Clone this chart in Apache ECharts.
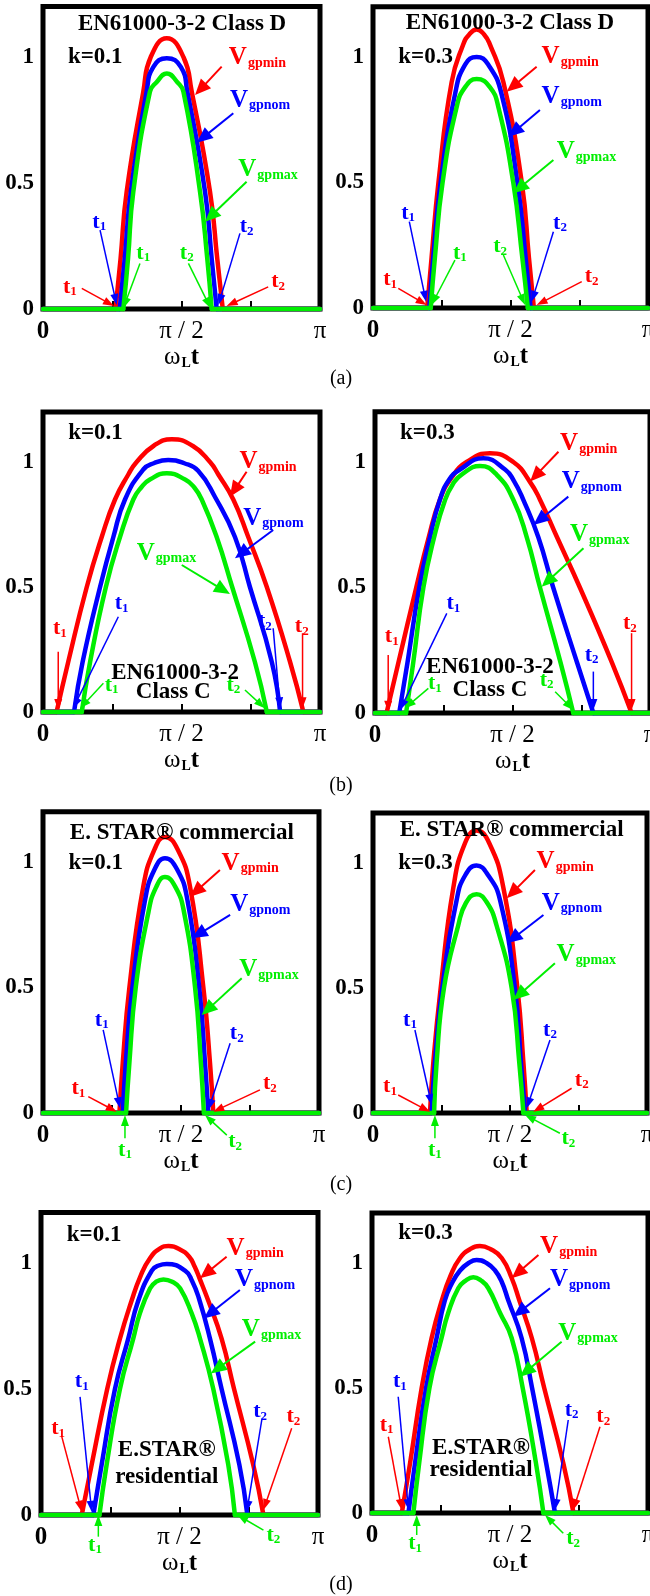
<!DOCTYPE html>
<html><head><meta charset="utf-8">
<script src="https://cdn.jsdelivr.net/npm/echarts/dist/echarts.min.js"></script>
<style>html,body{margin:0;padding:0;background:#fff}#c{width:650px;height:1596px}</style>
</head><body><div id="c"></div>
<script>
// ---------- tick labels ----------
const xTickValues = [0, 0.5, 1];          // x in units of pi
const xTickText = ['0', 'π / 2', 'π'];
const yTickValues = [0, 0.5, 1];
const yTickText = ['0', '0.5', '1'];
const captions = ['(a)', '(b)', '(c)', '(d)'];

// ---------- curves: [omega_L t / pi, V] ----------
// (a) EN61000-3-2 Class D
const aL_red   = [[0.262,0],[0.280,0.2],[0.302,0.465],[0.362,0.862],[0.389,1.0],[0.447,1.074],[0.507,1.0],[0.537,0.862],[0.603,0.465],[0.629,0.2],[0.649,0]];
const aL_blue  = [[0.277,0],[0.295,0.2],[0.317,0.465],[0.374,0.862],[0.398,0.96],[0.447,0.995],[0.498,0.96],[0.521,0.862],[0.585,0.465],[0.609,0.2],[0.627,0]];
const aL_green = [[0.290,0],[0.307,0.2],[0.326,0.465],[0.386,0.862],[0.410,0.9],[0.447,0.935],[0.485,0.9],[0.507,0.862],[0.567,0.465],[0.593,0.2],[0.609,0]];
const aR_red   = [[0.197,0],[0.213,0.2],[0.238,0.5],[0.286,0.9],[0.328,1.05],[0.350,1.09],[0.377,1.11],[0.404,1.09],[0.425,1.05],[0.474,0.9],[0.541,0.5],[0.567,0.2],[0.585,0]];
const aR_blue  = [[0.205,0],[0.219,0.2],[0.246,0.5],[0.298,0.85],[0.335,0.97],[0.377,1.0],[0.419,0.97],[0.468,0.85],[0.525,0.5],[0.555,0.2],[0.573,0]];
const aR_green = [[0.210,0],[0.225,0.2],[0.253,0.5],[0.304,0.8],[0.335,0.88],[0.377,0.912],[0.425,0.88],[0.456,0.8],[0.510,0.5],[0.543,0.2],[0.563,0]];
// (b) EN61000-3-2 Class C
const bL_red   = [[0.049,0],[0.091,0.2],[0.158,0.5],[0.212,0.7],[0.260,0.85],[0.308,0.95],[0.338,1.0],[0.400,1.065],[0.465,1.091],[0.540,1.065],[0.603,1.0],[0.633,0.95],[0.687,0.85],[0.741,0.7],[0.808,0.5],[0.892,0.2],[0.940,0]];
const bL_blue  = [[0.112,0],[0.143,0.2],[0.206,0.5],[0.254,0.7],[0.296,0.85],[0.362,0.97],[0.400,0.995],[0.452,1.008],[0.510,0.995],[0.560,0.965],[0.621,0.86],[0.693,0.7],[0.747,0.5],[0.826,0.2],[0.856,0]];
const bL_green = [[0.140,0],[0.170,0.2],[0.227,0.5],[0.278,0.7],[0.326,0.85],[0.356,0.9],[0.386,0.93],[0.447,0.955],[0.513,0.93],[0.545,0.9],[0.573,0.85],[0.627,0.7],[0.683,0.5],[0.765,0.2],[0.808,0]];
const bR_red   = [[0.042,0],[0.085,0.2],[0.150,0.5],[0.193,0.69],[0.236,0.85],[0.280,0.94],[0.333,1.0],[0.418,1.035],[0.503,1.0],[0.564,0.92],[0.600,0.85],[0.662,0.7],[0.745,0.5],[0.862,0.2],[0.933,0]];
const bR_blue  = [[0.088,0],[0.118,0.2],[0.161,0.5],[0.200,0.7],[0.236,0.85],[0.270,0.93],[0.309,0.97],[0.394,1.015],[0.473,0.97],[0.505,0.925],[0.539,0.85],[0.594,0.7],[0.648,0.5],[0.735,0.2],[0.794,0]];
const bR_green = [[0.113,0],[0.139,0.2],[0.176,0.5],[0.215,0.7],[0.255,0.85],[0.285,0.915],[0.315,0.95],[0.382,0.984],[0.442,0.95],[0.503,0.85],[0.552,0.7],[0.600,0.5],[0.675,0.2],[0.721,0]];
// (c) E. STAR commercial
const cL_red   = [[0.277,0],[0.289,0.2],[0.313,0.5],[0.363,0.9],[0.404,1.05],[0.442,1.10],[0.488,1.05],[0.533,0.9],[0.581,0.5],[0.605,0.2],[0.617,0]];
const cL_blue  = [[0.289,0],[0.300,0.2],[0.324,0.5],[0.370,0.85],[0.404,0.97],[0.442,1.015],[0.486,0.97],[0.523,0.85],[0.566,0.5],[0.587,0.2],[0.599,0]];
const cL_green = [[0.301,0],[0.313,0.2],[0.336,0.5],[0.382,0.8],[0.410,0.9],[0.442,0.94],[0.480,0.9],[0.511,0.8],[0.551,0.5],[0.572,0.2],[0.583,0]];
const cR_red   = [[0.208,0],[0.220,0.2],[0.247,0.5],[0.293,0.9],[0.336,1.08],[0.378,1.13],[0.424,1.08],[0.476,0.9],[0.527,0.5],[0.549,0.2],[0.561,0]];
const cR_blue  = [[0.214,0],[0.226,0.2],[0.253,0.5],[0.305,0.85],[0.336,0.95],[0.378,0.99],[0.421,0.95],[0.464,0.85],[0.518,0.5],[0.540,0.2],[0.555,0]];
const cR_green = [[0.223,0],[0.232,0.2],[0.259,0.5],[0.311,0.75],[0.339,0.84],[0.378,0.875],[0.417,0.84],[0.451,0.75],[0.506,0.5],[0.534,0.2],[0.549,0]];
// (d) E.STAR residential
const dL_red   = [[0.147,0],[0.183,0.2],[0.239,0.5],[0.285,0.7],[0.327,0.85],[0.360,0.95],[0.394,1.02],[0.430,1.058],[0.460,1.067],[0.500,1.055],[0.535,1.025],[0.555,0.985],[0.572,0.94],[0.604,0.85],[0.652,0.7],[0.697,0.5],[0.766,0.2],[0.803,0]];
const dL_blue  = [[0.189,0],[0.219,0.2],[0.267,0.5],[0.315,0.7],[0.351,0.85],[0.400,0.97],[0.425,0.99],[0.454,0.996],[0.520,0.97],[0.545,0.93],[0.570,0.86],[0.610,0.7],[0.652,0.5],[0.716,0.2],[0.745,0]];
const dL_green = [[0.211,0],[0.237,0.2],[0.285,0.5],[0.333,0.7],[0.357,0.8],[0.394,0.9],[0.415,0.925],[0.442,0.935],[0.475,0.925],[0.502,0.9],[0.544,0.8],[0.574,0.7],[0.622,0.5],[0.676,0.2],[0.700,0]];
const dR_red   = [[0.108,0],[0.138,0.2],[0.180,0.5],[0.216,0.7],[0.253,0.85],[0.285,0.95],[0.319,1.02],[0.355,1.055],[0.391,1.068],[0.430,1.055],[0.470,1.02],[0.506,0.94],[0.534,0.85],[0.579,0.7],[0.624,0.5],[0.693,0.2],[0.730,0]];
const dR_blue  = [[0.132,0],[0.156,0.2],[0.196,0.5],[0.234,0.7],[0.264,0.85],[0.290,0.92],[0.319,0.97],[0.350,1.0],[0.379,1.012],[0.415,1.0],[0.446,0.97],[0.470,0.925],[0.494,0.85],[0.542,0.7],[0.580,0.5],[0.631,0.2],[0.663,0]];
const dR_green = [[0.150,0],[0.171,0.2],[0.208,0.5],[0.252,0.7],[0.276,0.8],[0.313,0.9],[0.340,0.93],[0.367,0.943],[0.395,0.93],[0.421,0.9],[0.464,0.8],[0.506,0.7],[0.546,0.5],[0.594,0.2],[0.621,0]];

// ---------- styling / layout ----------
const SERIF = '"Liberation Serif","Times New Roman",serif';
const R = '#ff0000', B = '#0000ff', G = '#00ee00';
const panelCurves = [
  [aL_red,aL_blue,aL_green],[aR_red,aR_blue,aR_green],
  [bL_red,bL_blue,bL_green],[bR_red,bR_blue,bR_green],
  [cL_red,cL_blue,cL_green],[cR_red,cR_blue,cR_green],
  [dL_red,dL_blue,dL_green],[dR_red,dR_blue,dR_green]];
const curveColors = [R, B, G];
const grids = [
  {left:43, top:6.6, width:277, height:302.4},
  {left:373, top:6.8, width:275, height:301.2},
  {left:43, top:412, width:277, height:300},
  {left:375, top:411.8, width:275, height:301.2},
  {left:43, top:811.8, width:276, height:301.2},
  {left:373, top:813, width:274, height:300},
  {left:41, top:1212.6, width:277, height:302.4},
  {left:372, top:1213, width:276, height:300}];

// annotations (positions in data coordinates of each panel)
const ann = [
 { texts:[['EN61000-3-2 Class D',0.502,1.131,'center'],['k=0.1',0.090,1.0,'left']],
   V:[[R,'gpmin',0.671,0.996,0.645,0.962,0.549,0.849],[B,'gpnom',0.675,0.829,0.687,0.777,0.555,0.660],[G,'gpmax',0.705,0.552,0.735,0.505,0.585,0.346]],
   T:[[B,1,0.203,0.345,0.206,0.313,0.266,0.016],[G,1,0.362,0.222,0.350,0.181,0.290,0.003],[G,2,0.519,0.222,0.525,0.181,0.605,0.003],[B,2,0.735,0.328,0.711,0.300,0.633,0.016],[R,1,0.097,0.088,0.140,0.082,0.256,0.012],[R,2,0.849,0.108,0.813,0.088,0.663,0.012]]},
 { texts:[['EN61000-3-2 Class D',0.498,1.134,'center'],['k=0.3',0.092,1.0,'left']],
   V:[[R,'gpmin',0.613,1.0,0.595,0.961,0.486,0.862],[B,'gpnom',0.613,0.842,0.607,0.789,0.492,0.682],[G,'gpmax',0.668,0.623,0.656,0.590,0.510,0.457]],
   T:[[B,1,0.128,0.379,0.132,0.344,0.193,0.025],[G,1,0.316,0.219,0.298,0.191,0.213,0.012],[R,1,0.062,0.113,0.092,0.078,0.195,0.012],[G,2,0.462,0.246,0.474,0.211,0.553,0.012],[B,2,0.680,0.339,0.656,0.304,0.577,0.025],[R,2,0.795,0.126,0.759,0.105,0.595,0.012]]},
 { texts:[['k=0.1',0.091,1.115,'left'],['EN61000-3-2',0.477,0.155,'center'],['Class C',0.470,0.081,'center']],
   V:[[R,'gpmin',0.709,1.001,0.735,0.961,0.675,0.861],[B,'gpnom',0.723,0.775,0.831,0.728,0.693,0.615],[G,'gpmax',0.338,0.635,0.501,0.588,0.675,0.472]],
   T:[[R,1,0.061,0.335,0.055,0.241,0.055,0.008],[B,1,0.284,0.435,0.272,0.381,0.109,0.015],[G,1,0.248,0.108,0.218,0.115,0.134,0.015],[G,2,0.687,0.108,0.729,0.088,0.801,0.015],[B,2,0.801,0.361,0.831,0.335,0.856,0.015],[R,2,0.934,0.341,0.937,0.315,0.937,0.015]]},
 { texts:[['k=0.3',0.091,1.114,'left'],['EN61000-3-2',0.418,0.184,'center'],['Class C',0.418,0.092,'center']],
   V:[[R,'gpmin',0.673,1.074,0.667,1.041,0.564,0.922],[B,'gpnom',0.679,0.922,0.703,0.862,0.576,0.749],[G,'gpmax',0.709,0.709,0.758,0.656,0.606,0.503]],
   T:[[R,1,0.061,0.304,0.048,0.231,0.048,0.005],[B,1,0.285,0.437,0.261,0.397,0.091,0.012],[G,1,0.218,0.118,0.194,0.098,0.109,0.019],[G,2,0.624,0.131,0.655,0.085,0.721,0.012],[B,2,0.788,0.231,0.794,0.165,0.794,0.012],[R,2,0.927,0.357,0.933,0.318,0.933,0.012]]},
 { texts:[['E. STAR® commercial',0.503,1.114,'center'],['k=0.1',0.092,0.995,'left']],
   V:[[R,'gpmin',0.647,0.995,0.641,0.968,0.533,0.862],[B,'gpnom',0.678,0.829,0.678,0.789,0.539,0.696],[G,'gpmax',0.711,0.570,0.720,0.537,0.575,0.390]],
   T:[[B,1,0.213,0.371,0.218,0.331,0.279,0.019],[R,1,0.128,0.098,0.164,0.065,0.267,0.005],[G,1,0.297,-0.147,0.297,-0.101,0.297,-0.008],[B,2,0.702,0.318,0.678,0.278,0.599,0.012],[R,2,0.822,0.118,0.786,0.092,0.617,0.005],[G,2,0.696,-0.114,0.666,-0.088,0.587,-0.008]]},
 { texts:[['E. STAR® commercial',0.506,1.132,'center'],['k=0.3',0.092,0.999,'left']],
   V:[[R,'gpmin',0.597,1.005,0.591,0.972,0.488,0.859],[B,'gpnom',0.616,0.839,0.622,0.792,0.488,0.679],[G,'gpmax',0.670,0.632,0.664,0.599,0.512,0.452]],
   T:[[B,1,0.135,0.372,0.153,0.332,0.214,0.032],[R,1,0.062,0.105,0.092,0.072,0.208,0.005],[G,1,0.226,-0.148,0.226,-0.101,0.226,-0.008],[B,2,0.646,0.332,0.646,0.292,0.561,0.019],[R,2,0.762,0.132,0.725,0.099,0.585,0.005],[G,2,0.713,-0.101,0.682,-0.081,0.555,-0.008]]},
 { texts:[['k=0.1',0.093,1.111,'left'],['E.STAR®',0.454,0.258,'center'],['residential',0.454,0.152,'center']],
   V:[[R,'gpmin',0.670,1.058,0.670,1.025,0.574,0.939],[B,'gpnom',0.700,0.933,0.718,0.893,0.588,0.780],[G,'gpmax',0.725,0.734,0.773,0.688,0.613,0.562]],
   T:[[B,1,0.147,0.529,0.141,0.469,0.183,0.013],[R,1,0.062,0.344,0.075,0.311,0.147,0.013],[G,1,0.195,-0.119,0.207,-0.086,0.207,0],[B,2,0.791,0.410,0.797,0.377,0.743,0.013],[R,2,0.911,0.390,0.905,0.344,0.803,0.020],[G,2,0.839,-0.079,0.803,-0.060,0.709,0]]},
 { texts:[['k=0.3',0.095,1.119,'left'],['E.STAR®',0.395,0.259,'center'],['residential',0.395,0.172,'center']],
   V:[[R,'gpmin',0.609,1.065,0.603,1.032,0.506,0.939],[B,'gpnom',0.645,0.932,0.645,0.899,0.512,0.785],[G,'gpmax',0.675,0.719,0.687,0.685,0.536,0.545]],
   T:[[B,1,0.101,0.525,0.095,0.465,0.132,0.012],[R,1,0.053,0.352,0.059,0.305,0.108,0.012],[G,1,0.156,-0.121,0.162,-0.088,0.162,-0.008],[B,2,0.723,0.412,0.711,0.372,0.663,0.012],[R,2,0.838,0.385,0.826,0.345,0.729,0.012],[G,2,0.729,-0.101,0.693,-0.081,0.627,-0.008]]}
];
const captionPos = [[341,379],[341,786],[341,1185],[341,1585]];

// ---------- build option ----------
const chart = echarts.init(document.getElementById('c'), null, {renderer:'canvas'});
const gridOpt = [], xAxes = [], yAxes = [], series = [];
grids.forEach((g, i) => {
  gridOpt.push(Object.assign({show:true, borderColor:'#000', borderWidth:5, backgroundColor:'transparent', containLabel:false, outerBoundsMode:'none'}, g));
  xAxes.push({
    type:'value', gridIndex:i, min:0, max:1, interval:0.25,
    axisLine:{show:false}, splitLine:{show:false},
    axisTick:{show:true, inside:true, length:8, lineStyle:{color:'#000', width:2}},
    axisLabel:{margin:10, formatter:v => {
      const k = xTickValues.findIndex(t => Math.abs(t - v) < 1e-6);
      if (k < 0) return '';
      return (k === 0 ? '{b|' : '{n|') + xTickText[k] + '}';
    }, rich:{
      b:{fontSize:25, fontWeight:'bold', fontFamily:SERIF, color:'#000'},
      n:{fontSize:25, fontFamily:SERIF, color:'#000'}}},
    name:'{w|ω}{l|L}{t|t}', nameLocation:'middle', nameGap:29,
    nameTextStyle:{rich:{
      w:{fontSize:25, fontFamily:SERIF, color:'#000'},
      l:{fontSize:14, fontWeight:'bold', fontFamily:SERIF, color:'#000', padding:[12,0,0,1]},
      t:{fontSize:25, fontWeight:'bold', fontFamily:SERIF, color:'#000'}}}
  });
  yAxes.push({
    type:'value', gridIndex:i, min:0, max:1.2, interval:0.5,
    axisLine:{show:false}, axisTick:{show:false}, splitLine:{show:false},
    axisLabel:{margin:9, fontSize:23, fontWeight:'bold', fontFamily:SERIF, color:'#000',
      showMaxLabel:false,
      formatter:v => { const k = yTickValues.findIndex(t => Math.abs(t - v) < 1e-6); return k < 0 ? '' : yTickText[k]; }}
  });
  panelCurves[i].forEach((arr, ci) => {
    const col = curveColors[ci];
    const base = {type:'line', xAxisIndex:i, yAxisIndex:i, symbol:'none', showSymbol:false, clip:false,
      silent:true, animation:false, lineStyle:{color:col, width:4.5, cap:'round', join:'round'}, z:2};
    const last = arr[arr.length - 1][0];
    series.push(Object.assign({}, base, {data:[[0,0],[arr[0][0],0]]}));
    series.push(Object.assign({}, base, {data:[[last,0],[1,0]]}));
    series.push(Object.assign({}, base, {data:arr, smooth:0.5}));
  });
});

chart.setOption({animation:false, grid:gridOpt, xAxis:xAxes, yAxis:yAxes, series:series});

// ---------- annotations ----------
function arrow(p1, p2, color, L, W, lw) {
  const dx = p2[0]-p1[0], dy = p2[1]-p1[1], len = Math.hypot(dx, dy) || 1;
  const ux = dx/len, uy = dy/len, bx = p2[0]-ux*L, by = p2[1]-uy*L;
  return [
    {type:'line', z:60, silent:true, shape:{x1:p1[0], y1:p1[1], x2:bx+ux*2, y2:by+uy*2}, style:{stroke:color, lineWidth:lw}},
    {type:'polygon', z:61, silent:true, shape:{points:[[p2[0],p2[1]],[bx-uy*W, by+ux*W],[bx+uy*W, by-ux*W]]}, style:{fill:color}}
  ];
}
const gEls = [];
ann.forEach((a, i) => {
  const P = (x, y) => chart.convertToPixel({gridIndex:i}, [x, y]);
  a.texts.forEach(([t, x, y, al]) => {
    const p = P(x, y);
    gEls.push({type:'text', z:50, silent:true, style:{text:t, x:p[0], y:p[1], align:al, verticalAlign:'middle',
      fontSize:23, fontWeight:'bold', fontFamily:SERIF, fill:'#000'}});
  });
  a.V.forEach(([c, sub, lx, ly, x1, y1, x2, y2]) => {
    const p = P(lx, ly);
    gEls.push({type:'text', z:50, silent:true, style:{text:'{a|V}{b|' + sub + '}', x:p[0], y:p[1], align:'left', verticalAlign:'middle',
      rich:{a:{fontSize:25, fontWeight:'bold', fontFamily:SERIF, fill:c},
            b:{fontSize:14, fontWeight:'bold', fontFamily:SERIF, fill:c, padding:[11,0,0,1]}}}});
    gEls.push(...arrow(P(x1, y1), P(x2, y2), c, 16, 7, 2));
  });
  a.T.forEach(([c, n, lx, ly, x1, y1, x2, y2]) => {
    const p = P(lx, ly);
    gEls.push({type:'text', z:50, silent:true, style:{text:'{a|t}{b|' + n + '}', x:p[0], y:p[1], align:'center', verticalAlign:'middle',
      rich:{a:{fontSize:22, fontWeight:'bold', fontFamily:SERIF, fill:c},
            b:{fontSize:13, fontWeight:'bold', fontFamily:SERIF, fill:c, padding:[10,0,0,0]}}}});
    gEls.push(...arrow(P(x1, y1), P(x2, y2), c, 11, 4, 1.5));
  });
});
captions.forEach((t, i) => {
  gEls.push({type:'text', z:50, silent:true, style:{text:t, x:captionPos[i][0], y:captionPos[i][1], align:'center', verticalAlign:'middle',
    fontSize:20, fontFamily:SERIF, fill:'#000'}});
});
chart.setOption({graphic:gEls});
</script></body></html>
